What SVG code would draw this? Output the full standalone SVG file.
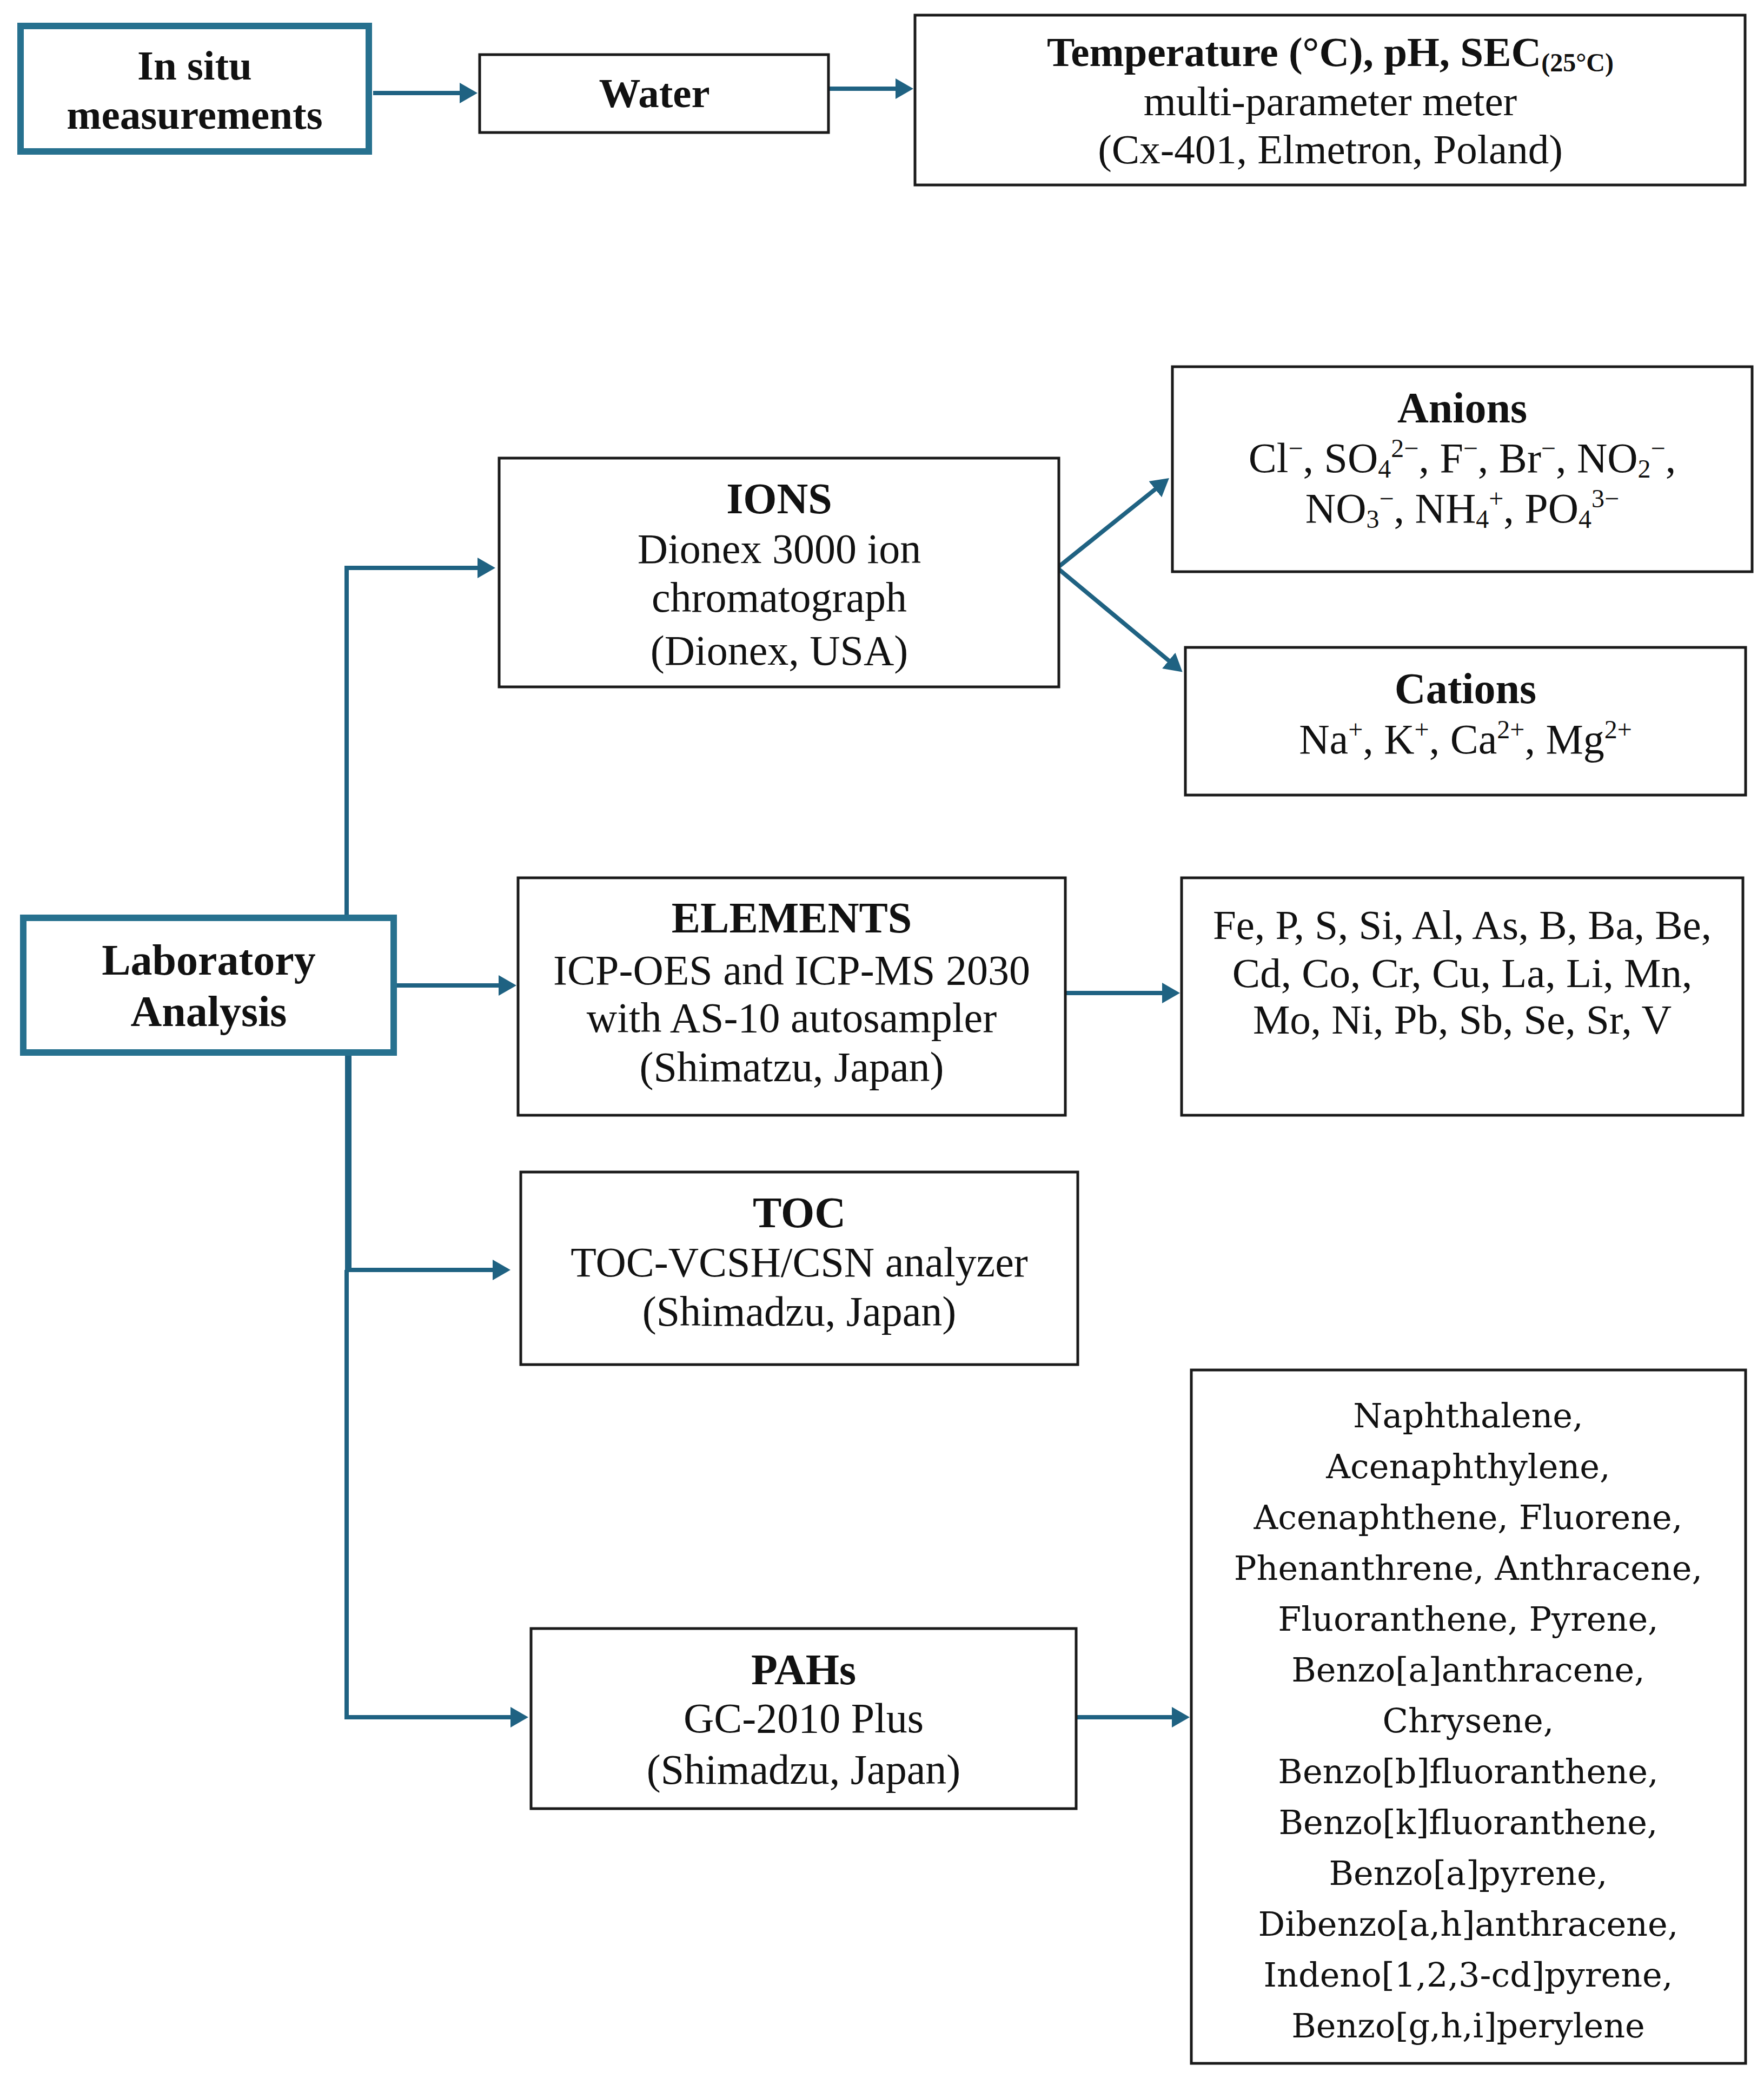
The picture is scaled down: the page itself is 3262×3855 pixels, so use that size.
<svg xmlns="http://www.w3.org/2000/svg" width="3262" height="3855" viewBox="0 0 3262 3855">
<style>
.box{fill:#fff;stroke:#1a1a1a;stroke-width:5}
.tbox{fill:#fff;stroke:#27718f;stroke-width:12}
.conn{fill:none;stroke:#1f6282;stroke-width:8}
.thick{stroke-width:12}
text{font-family:"Liberation Serif","Times New Roman",serif;fill:#111;text-anchor:middle}
.h{font-weight:bold;font-size:80px}
.r{font-size:78px}
.top{font-size:77px}
.s{font-size:48px}
.pah{font-family:"DejaVu Serif","Liberation Serif",serif;font-size:62px}
</style>
<defs>
<marker id="ah" markerUnits="userSpaceOnUse" markerWidth="33" markerHeight="38" viewBox="0 0 33 38" refX="1" refY="19" orient="auto">
<path d="M0,0 L33,19 L0,38 z" fill="#1f6282"/>
</marker>
</defs>
<rect width="3262" height="3855" fill="#fff"/>
<g id="connectors">
<line class="conn" x1="690" y1="172" x2="851" y2="172" marker-end="url(#ah)"/>
<line class="conn" x1="1533" y1="164" x2="1657" y2="164" marker-end="url(#ah)"/>
<path class="conn" d="M641,1692 V1050 H884" marker-end="url(#ah)"/>
<line class="conn" x1="1955" y1="1050" x2="2137" y2="904" marker-end="url(#ah)"/>
<line class="conn" x1="1955" y1="1050" x2="2162" y2="1222" marker-end="url(#ah)"/>
<line class="conn" x1="734" y1="1822" x2="923" y2="1822" marker-end="url(#ah)"/>
<line class="conn" x1="1972" y1="1836" x2="2150" y2="1836" marker-end="url(#ah)"/>
<line class="conn thick" x1="644" y1="1946" x2="644" y2="2352"/>
<path class="conn" d="M641,2348 V3175 H945" marker-end="url(#ah)"/>
<line class="conn" x1="644" y1="2348" x2="912" y2="2348" marker-end="url(#ah)"/>
<line class="conn" x1="1990" y1="3175" x2="2168" y2="3175" marker-end="url(#ah)"/>
</g>
<g id="insitu">
<rect class="tbox" x="38" y="48" width="644" height="232"/>
<text class="h top" x="360" y="147" style="font-weight:bold">In situ</text>
<text class="h top" x="360" y="238" style="font-weight:bold">measurements</text>
</g>
<g id="water">
<rect class="box" x="887" y="101" width="645" height="144"/>
<text class="h top" x="1210" y="198" style="font-weight:bold">Water</text>
</g>
<g id="temp">
<rect class="box" x="1692" y="28" width="1535" height="314"/>
<text class="top" x="2460" y="122" style="font-weight:bold">Temperature (°C), pH, SEC<tspan class="s" dy="10">(25°C)</tspan></text>
<text class="top" x="2460" y="213">multi-parameter meter</text>
<text class="top" x="2460" y="302">(Cx-401, Elmetron, Poland)</text>
</g>
<g id="lab">
<rect class="tbox" x="43" y="1697" width="685" height="249"/>
<text class="h" x="386" y="1802">Laboratory</text>
<text class="h" x="386" y="1897">Analysis</text>
</g>
<g id="ions">
<rect class="box" x="923" y="847" width="1035" height="423"/>
<text class="h" x="1441" y="949">IONS</text>
<text class="r" x="1441" y="1041">Dionex 3000 ion</text>
<text class="r" x="1441" y="1131">chromatograph</text>
<text class="r" x="1441" y="1229">(Dionex, USA)</text>
</g>
<g id="anions">
<rect class="box" x="2168" y="678" width="1072" height="379"/>
<text class="h" x="2704" y="781">Anions</text>
<text class="r" x="2704" y="873">Cl<tspan class="s" dy="-28">−</tspan><tspan dy="28">, SO</tspan><tspan class="s" dy="10">4</tspan><tspan class="s" dy="-38">2−</tspan><tspan dy="28">, F</tspan><tspan class="s" dy="-28">−</tspan><tspan dy="28">, Br</tspan><tspan class="s" dy="-28">−</tspan><tspan dy="28">, NO</tspan><tspan class="s" dy="10">2</tspan><tspan class="s" dy="-38">−</tspan><tspan dy="28">,</tspan></text>
<text class="r" x="2704" y="966">NO<tspan class="s" dy="10">3</tspan><tspan class="s" dy="-38">−</tspan><tspan dy="28">, NH</tspan><tspan class="s" dy="10">4</tspan><tspan class="s" dy="-38">+</tspan><tspan dy="28">, PO</tspan><tspan class="s" dy="10">4</tspan><tspan class="s" dy="-38">3−</tspan></text>
</g>
<g id="cations">
<rect class="box" x="2192" y="1197" width="1036" height="273"/>
<text class="h" x="2710" y="1300">Cations</text>
<text class="r" x="2710" y="1393">Na<tspan class="s" dy="-28">+</tspan><tspan dy="28">, K</tspan><tspan class="s" dy="-28">+</tspan><tspan dy="28">, Ca</tspan><tspan class="s" dy="-28">2+</tspan><tspan dy="28">, Mg</tspan><tspan class="s" dy="-28">2+</tspan></text>
</g>
<g id="elements">
<rect class="box" x="958" y="1623" width="1012" height="439"/>
<text class="h" x="1464" y="1724">ELEMENTS</text>
<text class="r" x="1464" y="1820">ICP-OES and ICP-MS 2030</text>
<text class="r" x="1464" y="1908">with AS-10 autosampler</text>
<text class="r" x="1464" y="1999">(Shimatzu, Japan)</text>
</g>
<g id="elementlist">
<rect class="box" x="2185" y="1623" width="1038" height="439"/>
<text class="top" x="2704" y="1736">Fe, P, S, Si, Al, As, B, Ba, Be,</text>
<text class="top" x="2704" y="1825">Cd, Co, Cr, Cu, La, Li, Mn,</text>
<text class="top" x="2704" y="1911">Mo, Ni, Pb, Sb, Se, Sr, V</text>
</g>
<g id="toc">
<rect class="box" x="963" y="2167" width="1030" height="356"/>
<text class="h" x="1478" y="2269">TOC</text>
<text class="r" x="1478" y="2360">TOC-VCSH/CSN analyzer</text>
<text class="r" x="1478" y="2451">(Shimadzu, Japan)</text>
</g>
<g id="pahs">
<rect class="box" x="982" y="3011" width="1008" height="333"/>
<text class="h" x="1486" y="3114">PAHs</text>
<text class="r" x="1486" y="3203">GC-2010 Plus</text>
<text class="r" x="1486" y="3298">(Shimadzu, Japan)</text>
</g>
<g id="pahlist">
<rect class="box" x="2203" y="2533" width="1025" height="1282"/>
<text class="pah" x="2715" y="2639">Naphthalene,</text>
<text class="pah" x="2715" y="2733">Acenaphthylene,</text>
<text class="pah" x="2715" y="2827">Acenaphthene, Fluorene,</text>
<text class="pah" x="2715" y="2921">Phenanthrene, Anthracene,</text>
<text class="pah" x="2715" y="3015">Fluoranthene, Pyrene,</text>
<text class="pah" x="2715" y="3109">Benzo[a]anthracene,</text>
<text class="pah" x="2715" y="3203">Chrysene,</text>
<text class="pah" x="2715" y="3297">Benzo[b]fluoranthene,</text>
<text class="pah" x="2715" y="3391">Benzo[k]fluoranthene,</text>
<text class="pah" x="2715" y="3485">Benzo[a]pyrene,</text>
<text class="pah" x="2715" y="3579">Dibenzo[a,h]anthracene,</text>
<text class="pah" x="2715" y="3673">Indeno[1,2,3-cd]pyrene,</text>
<text class="pah" x="2715" y="3767">Benzo[g,h,i]perylene</text>
</g>
</svg>
